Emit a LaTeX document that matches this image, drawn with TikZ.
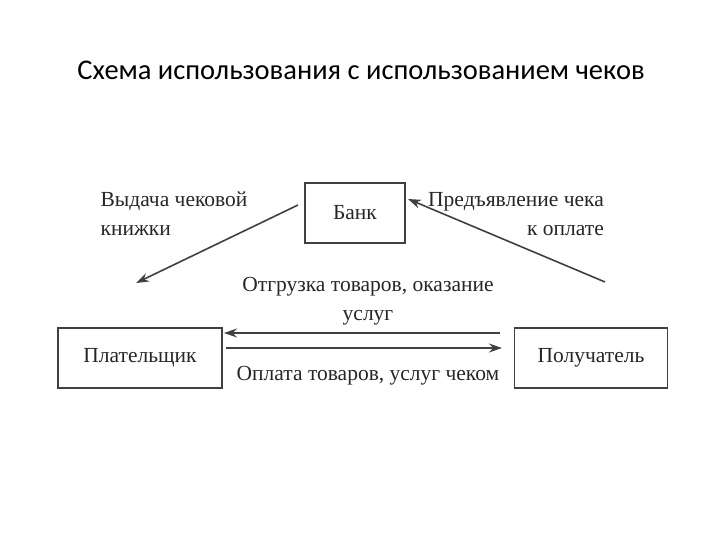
\documentclass[tikz,border=0pt]{standalone}
\usepackage{fontspec}
\setmainfont{Liberation Serif}
\newfontfamily\titlefont{Carlito}
\usetikzlibrary{arrows.meta}
\begin{document}
\begin{tikzpicture}[x=1pt,y=-1pt,
  box/.style={draw=black!75,line width=1.8pt,minimum height=60pt,inner sep=0pt},
  arr/.style={draw=black!75,line width=1.6pt,-{Stealth[length=13pt,width=9pt]}},
  lbl/.style={font=\fontsize{21.5}{29}\selectfont,text=black!85,align=center}]
\useasboundingbox (0,0) rectangle (720,540);
\node[font=\titlefont\fontsize{28.5}{32}\selectfont] (title) at (361,70) {Схема использования с использованием чеков};
\node[box,minimum width=100pt,lbl] (bank) at (355,213) {Банк};
\node[box,minimum width=164pt,lbl] (payer) at (140,358) {Плательщик};
\node[box,minimum width=153pt,lbl] (recv) at (591,358) {Получатель};
\coordinate (b1) at (298,205);
\coordinate (b2) at (136,283);
\coordinate (r1) at (605,282);
\coordinate (r2) at (408,199);
\coordinate (h1) at (500,333);
\coordinate (h2) at (224,333);
\coordinate (h3) at (226,348);
\coordinate (h4) at (502,348);
\draw[arr] (b1) -- (b2);
\draw[arr] (r1) -- (r2);
\draw[arr] (h1) -- (h2);
\draw[arr] (h3) -- (h4);
\node[lbl,align=left] (l1) at (174,214) {Выдача чековой\\ книжки};
\node[lbl,align=right] (l2) at (516,214) {Предъявление чека\\ к оплате};
\node[lbl] (l3) at (368,301) {Отгрузка товаров, оказание\\ услуг};
\node[lbl] (l4) at (368,376) {Оплата товаров, услуг чеком};
\end{tikzpicture}
\end{document}
